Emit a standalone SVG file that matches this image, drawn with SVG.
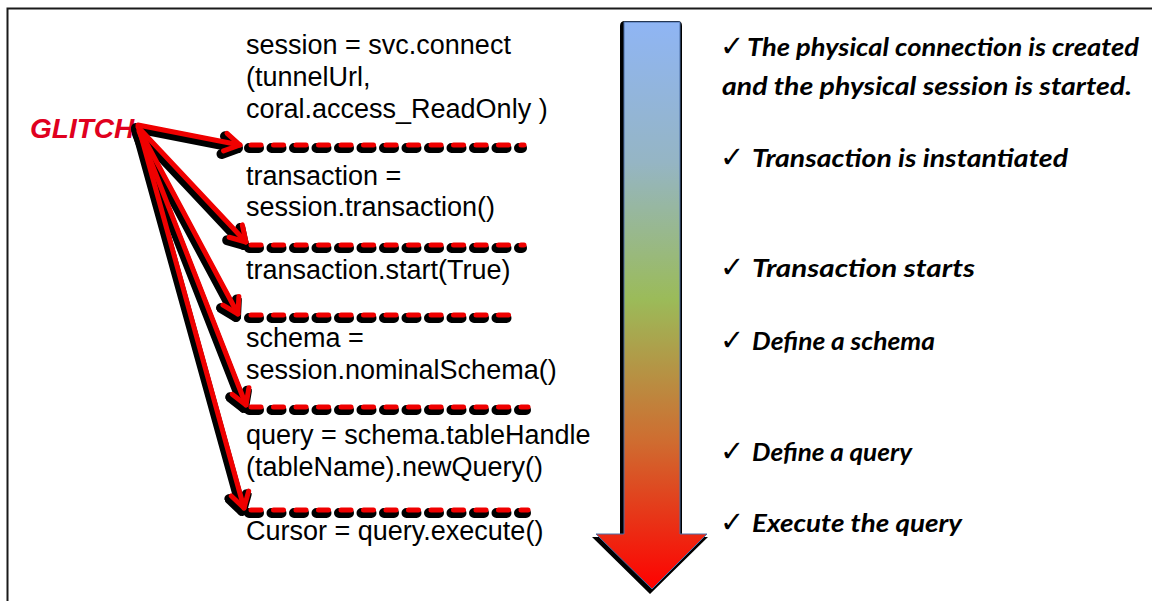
<svg xmlns="http://www.w3.org/2000/svg" width="1152" height="601" viewBox="0 0 1152 601">
  <defs>
    <style>
      .code { font-family: "Liberation Sans", Arial, sans-serif; font-size: 27px; fill: #000; }
      .note { font-family: "Lato", "Liberation Sans", sans-serif; font-weight: bold; font-style: italic; font-size: 25px; fill: #000; }
      .tick { font-family: "DejaVu Sans", sans-serif; font-size: 29px; font-weight: bold; fill: #000; font-style: normal; }
      .glitch { font-family: "Liberation Sans", Arial, sans-serif; font-weight: bold; font-style: italic; font-size: 28px; fill: #e0001e; }
      .dash-shadow { fill: none; stroke: #000; stroke-width: 10; stroke-linecap: round; stroke-dasharray: 10 12.5; }
      .dash-red { fill: none; stroke: #f00000; stroke-width: 5; stroke-linecap: round; stroke-dasharray: 10 12.5; }
      .wire-shadow { fill: none; stroke: #000; stroke-width: 10; stroke-linecap: round; stroke-linejoin: round; }
      .wire-red { fill: none; stroke: #f00000; stroke-width: 5; stroke-linecap: round; stroke-linejoin: round; }
    </style>
    <linearGradient id="flowFill" gradientUnits="userSpaceOnUse" x1="0" y1="20" x2="0" y2="590">
      <stop offset="0" stop-color="#8fb5f5"/>
      <stop offset="0.25" stop-color="#95b5c4"/>
      <stop offset="0.49" stop-color="#9bbb59"/>
      <stop offset="0.74" stop-color="#cf6c30"/>
      <stop offset="1" stop-color="#ff0000"/>
    </linearGradient>
    <marker id="headShadow" markerUnits="userSpaceOnUse" viewBox="-24 -14 28 28" refX="0" refY="0" markerWidth="28" markerHeight="28" orient="auto">
      <path d="M-15,-9 L0,0 L-15,9" fill="none" stroke="#000" stroke-width="10" stroke-linecap="round" stroke-linejoin="round"/>
    </marker>
    <marker id="headRed" markerUnits="userSpaceOnUse" viewBox="-24 -14 28 28" refX="0" refY="0" markerWidth="28" markerHeight="28" orient="auto">
      <path d="M-15,-9 L0,0 L-15,9" fill="none" stroke="#f00000" stroke-width="5" stroke-linecap="round" stroke-linejoin="round"/>
    </marker>
  </defs>

  <rect width="1152" height="601" fill="#fff"/>
  <!-- frame -->
  <path d="M7.5,601 V8.5 H1152" fill="none" stroke="#1a1a1a" stroke-width="2"/>

  <!-- big flow arrow -->
  <g id="flow-arrow">
    <path d="M621,25 Q621,20 626,20 H679 Q683,20 683,25 V536 H709 L651,593 L593,536 H621 Z" fill="#000" transform="translate(-1,1)"/>
    <path d="M624,22 H680 V534 H707 L652,589 L596,534 H624 Z" fill="url(#flowFill)" stroke="#4a6ea8" stroke-width="1"/>
  </g>

  <!-- code steps -->
  <g id="step-connect">
    <text class="code" x="246" y="54">session = svc.connect</text>
    <text class="code" x="246" y="86">(tunnelUrl,</text>
    <text class="code" x="246" y="118">coral.access_ReadOnly )</text>
  </g>
  <g id="step-transaction">
    <text class="code" x="246" y="185">transaction =</text>
    <text class="code" x="246" y="216">session.transaction()</text>
  </g>
  <g id="step-start">
    <text class="code" x="246" y="279">transaction.start(True)</text>
  </g>
  <g id="step-schema">
    <text class="code" x="246" y="347">schema =</text>
    <text class="code" x="246" y="379">session.nominalSchema()</text>
  </g>
  <g id="step-query">
    <text class="code" x="246" y="444">query = schema.tableHandle</text>
    <text class="code" x="246" y="476">(tableName).newQuery()</text>
  </g>
  <g id="step-execute">
    <text class="code" x="246" y="540">Cursor = query.execute()</text>
  </g>

  <!-- glitch source -->
  <g id="glitch">
    <text class="glitch" x="30" y="138">GLITCH</text>
  </g>

  <!-- notes -->
  <g id="note-connect">
    <text class="note" x="720" y="56"><tspan class="tick">✓</tspan><tspan x="747" textLength="392" lengthAdjust="spacingAndGlyphs">The physical connection is created</tspan></text>
    <text class="note" x="722" y="95" textLength="410" lengthAdjust="spacingAndGlyphs">and the physical session is started.</text>
  </g>
  <g id="note-transaction">
    <text class="note" x="720" y="167"><tspan class="tick">✓</tspan><tspan x="752" textLength="316" lengthAdjust="spacingAndGlyphs">Transaction is instantiated</tspan></text>
  </g>
  <g id="note-start">
    <text class="note" x="720" y="277"><tspan class="tick">✓</tspan><tspan x="752" textLength="223" lengthAdjust="spacingAndGlyphs">Transaction starts</tspan></text>
  </g>
  <g id="note-schema">
    <text class="note" x="720" y="350"><tspan class="tick">✓</tspan><tspan x="752" textLength="183" lengthAdjust="spacingAndGlyphs">Define a schema</tspan></text>
  </g>
  <g id="note-query">
    <text class="note" x="720" y="461"><tspan class="tick">✓</tspan><tspan x="752" textLength="160" lengthAdjust="spacingAndGlyphs">Define a query</tspan></text>
  </g>
  <g id="note-execute">
    <text class="note" x="720" y="532"><tspan class="tick">✓</tspan><tspan x="752" textLength="210" lengthAdjust="spacingAndGlyphs">Execute the query</tspan></text>
  </g>

  <!-- connectors: glitch pointers and break markers between steps -->
  <g id="connectors">
    <g transform="translate(-2,3)">
      <path class="dash-shadow" d="M251,145 H524"/>
      <path class="dash-shadow" d="M251,245 H524"/>
      <path class="dash-shadow" d="M251,315 H514"/>
      <path class="dash-shadow" d="M251,407 H528"/>
      <path class="dash-shadow" d="M251,510 H528"/>
      <path class="wire-shadow" d="M138,125 L240,145" marker-end="url(#headShadow)"/>
      <path class="wire-shadow" d="M138,127 L246,242" marker-end="url(#headShadow)"/>
      <path class="wire-shadow" d="M139,129 L238,314" marker-end="url(#headShadow)"/>
      <path class="wire-shadow" d="M139,131 L246,405" marker-end="url(#headShadow)"/>
      <path class="wire-shadow" d="M140,132 L244,508" marker-end="url(#headShadow)"/>
    </g>
    <g>
      <path class="dash-red" d="M251,145 H524"/>
      <path class="dash-red" d="M251,245 H524"/>
      <path class="dash-red" d="M251,315 H514"/>
      <path class="dash-red" d="M251,407 H528"/>
      <path class="dash-red" d="M251,510 H528"/>
      <path class="wire-red" d="M138,125 L240,145" marker-end="url(#headRed)"/>
      <path class="wire-red" d="M138,127 L246,242" marker-end="url(#headRed)"/>
      <path class="wire-red" d="M139,129 L238,314" marker-end="url(#headRed)"/>
      <path class="wire-red" d="M139,131 L246,405" marker-end="url(#headRed)"/>
      <path class="wire-red" d="M140,132 L244,508" marker-end="url(#headRed)"/>
    </g>
  </g>
</svg>
